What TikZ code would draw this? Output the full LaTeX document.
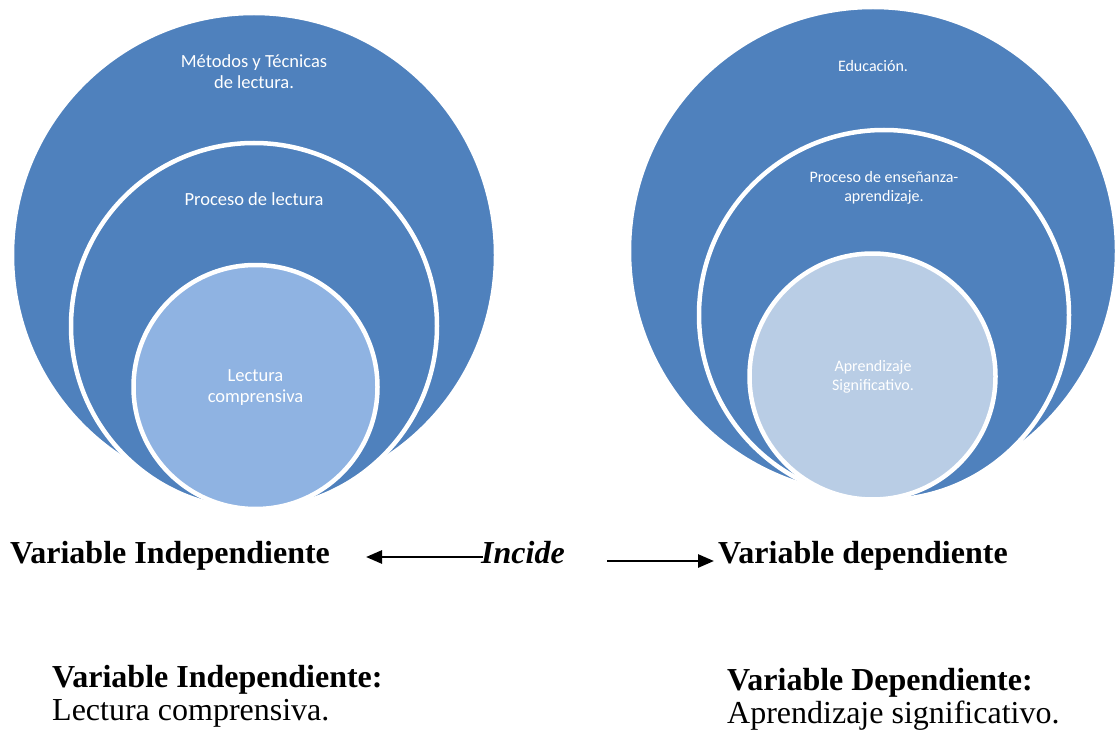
\documentclass[tikz,border=0pt]{standalone}
\usepackage{fontspec}
\setmainfont{Liberation Serif}
\newfontfamily\carlito{Carlito}
\usetikzlibrary{arrows.meta}
\definecolor{bigblue}{HTML}{4F81BD}
\definecolor{lightblue}{HTML}{8FB3E2}
\definecolor{paleblue}{HTML}{B9CDE5}
\tikzset{
  ring/.style={circle, draw=white, line width=4.5pt, inner sep=0pt, minimum size=#1},
  ctext/.style={align=center, text=white, inner sep=0pt, font=\carlito\fontsize{18.5}{21}\selectfont},
  ctextr/.style={align=center, text=white, inner sep=0pt, font=\carlito\fontsize{16}{18.5}\selectfont},
  big/.style={inner sep=0pt, font=\fontsize{32}{36}\selectfont\bfseries, anchor=base west},
  reg/.style={inner sep=0pt, font=\fontsize{32}{36}\selectfont, anchor=base west},
  arr/.style={line width=2.7pt, -{Triangle[length=16pt,width=13pt]}}
}
\begin{document}
\begin{tikzpicture}[x=1pt,y=-1pt]
\useasboundingbox (0,0) rectangle (1117,733);
% left nested circles
\node[ring=484pt, fill=bigblue] (L1) at (254,255) {};
\node[ring=366pt, fill=bigblue] (L2) at (254,326) {};
\node[ring=244pt, fill=lightblue] (L3) at (255.5,387) {};
\node[ctext] (tL1) at (254,72) {Métodos y Técnicas\\de lectura.};
\node[ctext] (tL2) at (254,199) {Proceso de lectura};
\node[ctext] (tL3) at (255.5,388) {Lectura\\comprensiva};
% right nested circles
\node[ring=488pt, fill=bigblue] (R1) at (873,251) {};
\node[ring=370pt, fill=bigblue] (R2) at (884,315) {};
\node[ring=246pt, fill=paleblue] (R3) at (872.5,376.5) {};
\node[ctextr] (tR1) at (873,66) {Educación.};
\node[ctextr] (tR2) at (884,188) {Proceso de enseñanza-\\aprendizaje.};
\node[ctextr] (tR3) at (873,377) {Aprendizaje\\Significativo.};
% middle row
\node[big] (vi) at (10,563) {Variable Independiente};
\node[big, font=\fontsize{32}{36}\selectfont\bfseries\itshape] (inc) at (481,563) {Incide};
\node[big] (vd) at (718,563) {Variable dependiente};
\coordinate (la) at (483,557);
\coordinate (lb) at (366,557);
\coordinate (ra) at (607,561);
\coordinate (rb) at (714,561);
\draw[arr] (la) -- (lb);
\draw[arr] (ra) -- (rb);
% bottom blocks
\node[big] (vi2) at (52,687) {Variable Independiente:};
\node[reg] (lc) at (52,720) {Lectura comprensiva.};
\node[big] (vd2) at (727,690) {Variable Dependiente:};
\node[reg] (as) at (727,723) {Aprendizaje significativo.};
\end{tikzpicture}
\end{document}
